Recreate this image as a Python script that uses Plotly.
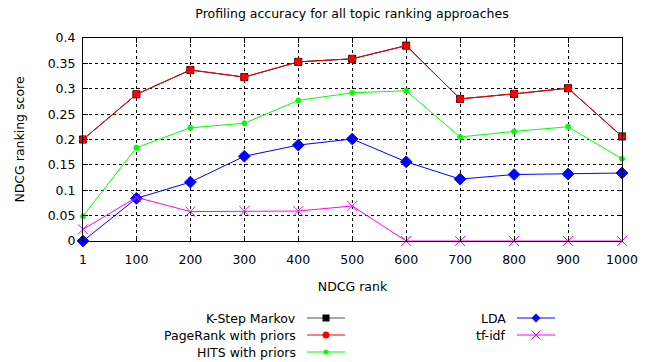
import plotly.graph_objects as go

ranks = [1, 100, 200, 300, 400, 500, 600, 700, 800, 900, 1000]
kstep = [0.200, 0.289, 0.337, 0.323, 0.353, 0.359, 0.385, 0.280, 0.290, 0.301, 0.206]
pagerank = [0.200, 0.289, 0.337, 0.323, 0.353, 0.359, 0.385, 0.280, 0.290, 0.301, 0.206]
hits = [0.049, 0.184, 0.223, 0.232, 0.277, 0.292, 0.296, 0.205, 0.216, 0.225, 0.162]
lda = [0.0, 0.084, 0.116, 0.167, 0.189, 0.201, 0.156, 0.122, 0.131, 0.132, 0.134]
tfidf = [0.023, 0.086, 0.058, 0.059, 0.059, 0.069, 0.0, 0.0, 0.0, 0.0, 0.0]
y_ticks = [0, 0.05, 0.1, 0.15, 0.2, 0.25, 0.3, 0.35, 0.4]
y_labels = ["0", "0.05", "0.1", "0.15", "0.2", "0.25", "0.3", "0.35", "0.4"]

FONT = "DejaVu Sans"
FS = 12.5
W, H = 651, 362
L, R, T, B = 83, 622, 38, 241


def px(x):
    return (x - L) / (R - L)


def py(y):
    return (B - y) / (B - T)


series = [
    ("K-Step Markov", kstep, "#000000", "square", 7, "#000000"),
    ("PageRank with priors", pagerank, "#ff0000", "circle", 7, "#ff0000"),
    ("HITS with priors", hits, "#00ff00", "circle", 5, "#00ff00"),
    ("LDA", lda, "#0000ff", "diamond", 9, "#0000ff"),
    ("tf-idf", tfidf, "#ff00ff", "x-thin", 10, "#ff00ff"),
]

fig = go.Figure()
for name, vals, col, sym, size, lc in series:
    fig.add_trace(go.Scatter(
        x=ranks, y=vals, mode="lines+markers", name=name,
        line=dict(color=lc, width=1),
        marker=dict(symbol=sym, size=size, color=col,
                    line=dict(color=col, width=1)),
        showlegend=False, cliponaxis=False,
    ))


def marker_shape(sym, size, col, xa, ya):
    h = size / 2
    base = dict(xref="paper", yref="paper", xsizemode="pixel", ysizemode="pixel",
                xanchor=xa, yanchor=ya)
    if sym == "square":
        return dict(type="rect", x0=-h, x1=h, y0=-h, y1=h, fillcolor=col,
                    line=dict(color=col, width=0), **base)
    if sym == "circle":
        return dict(type="circle", x0=-h, x1=h, y0=-h, y1=h, fillcolor=col,
                    line=dict(color=col, width=0), **base)
    if sym == "diamond":
        return dict(type="path", path=f"M0,{h} L{h},0 L0,{-h} L{-h},0 Z",
                    fillcolor=col, line=dict(color=col, width=0), **base)
    return dict(type="path", path=f"M{-h},{-h} L{h},{h} M{-h},{h} L{h},{-h}",
                line=dict(color=col, width=1), **base)


# gnuplot-style legend: text right-aligned, sample to its right
legend_pos = [(298, 318), (298, 335), (298, 352), (508, 318), (508, 335)]
shapes = []
for (name, vals, col, sym, size, lc), (tx, ty) in zip(series, legend_pos):
    fig.add_annotation(x=px(tx), y=py(ty), xref="paper", yref="paper",
                       text=name, showarrow=False, xanchor="right", yanchor="middle",
                       font=dict(family=FONT, size=FS, color="#000000"))
    lcol = "#555555" if name == "K-Step Markov" else lc
    shapes.append(dict(type="line", xref="paper", yref="paper",
                       x0=px(tx + 9), x1=px(tx + 47), y0=py(ty), y1=py(ty),
                       line=dict(color=lcol, width=1.2)))
    msize = {"square": 7, "circle": 7, "diamond": 9, "x-thin": 9}[sym]
    if name == "HITS with priors":
        msize = 5
    shapes.append(marker_shape(sym, msize, col, px(tx + 28), py(ty)))

fig.update_layout(
    width=W, height=H,
    margin=dict(l=L, r=W - R, t=T, b=H - B),
    paper_bgcolor="white", plot_bgcolor="white",
    font=dict(family=FONT, size=FS, color="#000000"),
    shapes=shapes,
    title=dict(text="Profiling accuracy for all topic ranking approaches",
               x=352 / W, xanchor="center", y=1 - 14 / H, yanchor="middle",
               font=dict(family=FONT, size=FS)),
    xaxis=dict(range=[1, 1000], tickvals=ranks, ticktext=[str(r) for r in ranks],
               showgrid=True, gridcolor="#000000", griddash="dot", gridwidth=1,
               showline=True, linecolor="#000000", linewidth=1, mirror="ticks",
               ticks="inside", ticklen=5, tickcolor="#000000", zeroline=False,
               tickfont=dict(size=FS), ticklabelstandoff=7,
               title=dict(text="NDCG rank", standoff=16, font=dict(size=FS))),
    yaxis=dict(range=[0, 0.4], tickvals=y_ticks, ticktext=y_labels,
               showgrid=True, gridcolor="#000000", griddash="dot", gridwidth=1,
               showline=True, linecolor="#000000", linewidth=1, mirror="ticks",
               ticks="inside", ticklen=5, tickcolor="#000000", zeroline=False,
               tickfont=dict(size=FS), ticklabelstandoff=4,
               title=dict(text="NDCG ranking score", standoff=20, font=dict(size=FS))),
)
fig.write_html("out.html", config={"displayModeBar": False},
               post_script="document.body.style.margin='0';document.body.style.overflow='hidden';")
